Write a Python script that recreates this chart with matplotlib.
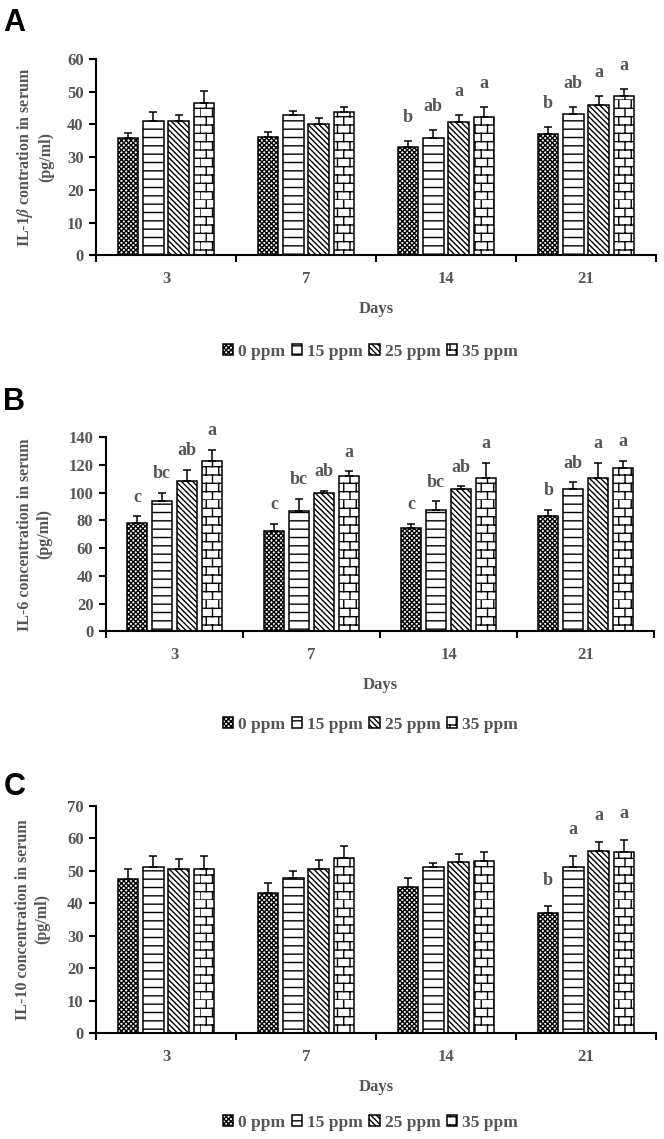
import warnings
import numpy as np
import matplotlib
matplotlib.use('Agg')
import matplotlib.pyplot as plt
from matplotlib import hatch as mhatch
from matplotlib.path import Path

warnings.filterwarnings('ignore', message='.*hatch must consist.*')

days = ['3', '7', '14', '21']
doses = ['0 ppm', '15 ppm', '25 ppm', '35 ppm']

# IL-1beta, rows = dose, cols = day
il1b_mean = [[35.8, 36.3, 33.2, 37.0],
             [40.9, 42.9, 35.8, 43.3],
             [40.9, 40.1, 40.8, 45.9],
             [46.4, 43.7, 42.4, 48.7]]
il1b_err = [[1.7, 1.5, 1.8, 2.1],
            [2.8, 1.3, 2.5, 2.1],
            [2.0, 2.0, 2.1, 2.9],
            [3.8, 1.7, 3.0, 2.2]]
il1b_letters = [['', '', 'b', 'b'],
                ['', '', 'ab', 'ab'],
                ['', '', 'a', 'a'],
                ['', '', 'a', 'a']]

# IL-6
il6_mean = [[78.0, 72.5, 74.8, 82.8],
            [93.6, 86.9, 87.6, 102.5],
            [108.5, 99.6, 102.5, 110.4],
            [122.4, 111.6, 110.4, 117.4]]
il6_err = [[4.8, 5.0, 2.7, 4.8],
           [6.0, 8.4, 6.0, 4.8],
           [7.9, 1.9, 1.9, 10.9],
           [8.0, 3.6, 10.9, 5.7]]
il6_letters = [['c', 'c', 'c', 'b'],
               ['bc', 'bc', 'bc', 'ab'],
               ['ab', 'ab', 'ab', 'a'],
               ['a', 'a', 'a', 'a']]

# IL-10
il10_mean = [[47.4, 43.2, 45.1, 36.9],
             [51.1, 47.7, 51.1, 51.1],
             [50.6, 50.6, 52.7, 56.2],
             [50.6, 54.1, 53.1, 55.7]]
il10_err = [[3.2, 2.9, 2.6, 2.1],
            [3.4, 2.2, 1.2, 3.4],
            [3.0, 2.7, 2.5, 2.8],
            [3.9, 3.7, 2.6, 3.8]]
il10_letters = [['', '', '', 'b'],
                ['', '', '', 'a'],
                ['', '', '', 'a'],
                ['', '', '', 'a']]

GRAY = '#555555'
BAR_W = 0.146
BAR_STEP = 0.181


# brick hatch ('b'), matplotlib has none of its own
class BrickHatch(mhatch.HatchPatternBase):
    def __init__(self, hatch, density):
        k = hatch.count('b')
        self.rows = 12 * k
        self.cols = 8 * k
        self.num_vertices = 2 * self.rows + 2 * self.rows * self.cols

    def set_vertices_and_codes(self, vertices, codes):
        n, m = self.rows, self.cols
        c = 0
        for i in range(n):
            y = i / n
            vertices[c] = (0, y)
            vertices[c + 1] = (1, y)
            c += 2
            off = 0.5 * (i % 2)
            for j in range(m):
                xx = (j + off) / m
                vertices[c] = (xx, y)
                vertices[c + 1] = (xx, y + 1 / n)
                c += 2
        codes[0::2] = Path.MOVETO
        codes[1::2] = Path.LINETO


mhatch._hatch_types.append(BrickHatch)

HATCHES = ['xxxxxxx', '--', '\\\\\\\\\\\\', 'b']

plt.rcParams['font.family'] = ['Liberation Serif', 'DejaVu Serif']
plt.rcParams['font.weight'] = 'bold'
plt.rcParams['axes.labelweight'] = 'bold'
plt.rcParams['mathtext.fontset'] = 'stix'
plt.rcParams['hatch.linewidth'] = 1.0


def draw_panel(ax, mean, err, letters, ymax, ystep, ylabel, letter_pad):
    x = np.arange(len(days))
    for i in range(len(doses)):
        pos = x + (i - 1.5) * BAR_STEP
        ax.bar(pos, mean[i], BAR_W, color='white', edgecolor='black',
               linewidth=1.1, hatch=HATCHES[i], label=doses[i], zorder=2)
        ax.errorbar(pos, mean[i], yerr=[np.zeros(len(days)), err[i]], fmt='none',
                    ecolor='black', elinewidth=1.1, capsize=3, capthick=1.1, zorder=3)
        for xi, m, e, t in zip(pos, mean[i], err[i], letters[i]):
            if t:
                ax.annotate(t, (xi, m + e), xytext=(0, letter_pad),
                            textcoords='offset points', ha='center', va='center',
                            fontsize=13, color=GRAY)

    ax.set_xlim(-0.5, 3.5)
    ax.set_ylim(0, ymax)
    ax.set_yticks(np.arange(0, ymax + 1, ystep))
    ax.set_xticks(np.arange(-0.5, 4, 1))
    ax.set_xticklabels([])
    ax.set_xticks(x, minor=True)
    ax.set_xticklabels(days, minor=True)
    ax.tick_params(axis='x', which='major', length=5, width=1.5, direction='out')
    ax.tick_params(axis='x', which='minor', length=0, pad=11.5,
                   labelsize=12, labelcolor=GRAY)
    ax.tick_params(axis='y', length=5, width=1.5, pad=4,
                   labelsize=12, labelcolor=GRAY)
    for s in ['top', 'right']:
        ax.spines[s].set_visible(False)
    for s in ['left', 'bottom']:
        ax.spines[s].set_linewidth(1.5)
    ax.set_ylabel(ylabel, fontsize=11.5, color=GRAY, linespacing=1.25)
    ax.set_xlabel('Days', fontsize=12, color=GRAY)


fig = plt.figure(figsize=(6.64, 11.39), dpi=100)

axA = fig.add_axes([0.1446, 0.7759, 0.8434, 0.1723])
axB = fig.add_axes([0.1596, 0.4456, 0.8253, 0.1707])
axC = fig.add_axes([0.1446, 0.0931, 0.8434, 0.1993])

draw_panel(axA, il1b_mean, il1b_err, il1b_letters, 60, 10,
           'IL-1$\\beta$ contration in serum\n(pg/ml)', 17)
draw_panel(axB, il6_mean, il6_err, il6_letters, 140, 20,
           'IL-6 concentration in serum\n(pg/ml)', 14)
draw_panel(axC, il10_mean, il10_err, il10_letters, 70, 10,
           'IL-10 concentration in serum\n(pg/ml)', 19)

axA.yaxis.set_label_coords(-0.075, 0.5)
axB.yaxis.set_label_coords(-0.098, 0.5)
axC.yaxis.set_label_coords(-0.082, 0.5)
axA.xaxis.set_label_coords(0.5, -0.235)
axB.xaxis.set_label_coords(0.5, -0.236)
axC.xaxis.set_label_coords(0.5, -0.204)

for ax, ly in [(axA, 0.691), (axB, 0.3635), (axC, 0.014)]:
    h, l = ax.get_legend_handles_labels()
    fig.legend(h, l, loc='center', bbox_to_anchor=(0.558, ly), ncol=4,
               frameon=False, fontsize=12.5, labelcolor=GRAY,
               handlelength=0.6, handleheight=0.6, handletextpad=0.3,
               columnspacing=0.35, borderaxespad=0)

for letter, y in [('A', 0.993), ('B', 0.660), ('C', 0.322)]:
    fig.text(0.005, y, letter, family='Liberation Sans', fontweight='bold',
             fontsize=22, va='top', ha='left', color='black')

fig.savefig('out.png', dpi=100)
